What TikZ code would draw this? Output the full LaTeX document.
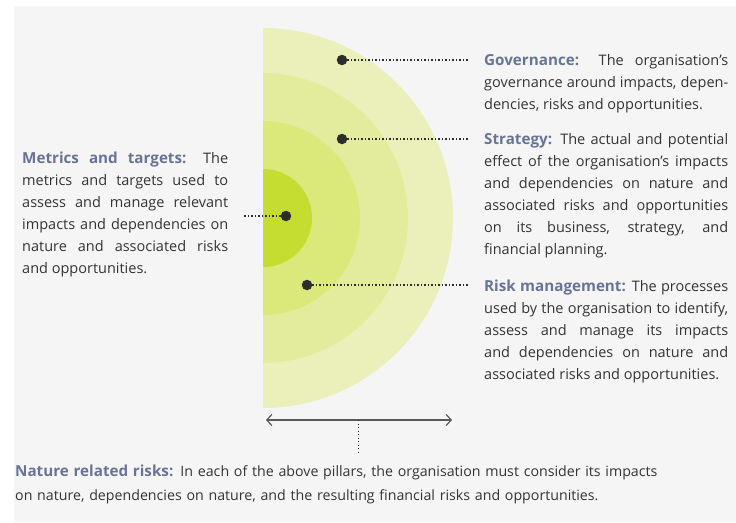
\documentclass[tikz,border=0pt]{standalone}
\usepackage{fontspec}
\setmainfont{Open Sans}
\usetikzlibrary{arrows.meta,positioning}

\definecolor{bg}{RGB}{245,245,245}
\definecolor{ringa}{RGB}{235,240,186}
\definecolor{ringb}{RGB}{227,236,156}
\definecolor{ringc}{RGB}{219,232,122}
\definecolor{ringd}{RGB}{197,220,48}
\definecolor{head}{RGB}{104,116,150}
\definecolor{body}{RGB}{52,52,52}
\definecolor{dotc}{RGB}{45,45,45}

\tikzset{
  pin/.style={circle,fill=dotc,inner sep=0pt,minimum size=10.5pt},
  lead/.style={dotc,line width=1.1pt,dash pattern=on 1.1pt off 2.4pt},
  blurb/.style={inner sep=0pt,anchor=base west,align=justify,text=body,
    font=\fontsize{14.5}{22}\selectfont},
}
\newcommand{\hd}[1]{{\fontsize{15.2}{22}\selectfont\bfseries\color{head}#1}}

\begin{document}
\begin{tikzpicture}[x=1pt,y=-1pt]
	\useasboundingbox (0,0) rectangle (736,522);
	\fill[white] (0,0) rectangle (736,522);
	\fill[bg] (14,6) rectangle (736,522);

	% the four half discs
	\fill[ringa] (263,218) ++(0,-190) arc[start angle=-90,end angle=90,radius=190] -- cycle;
	\fill[ringb] (263,218) ++(0,-145) arc[start angle=-90,end angle=90,radius=145] -- cycle;
	\fill[ringc] (263,218) ++(0,-97) arc[start angle=-90,end angle=90,radius=97] -- cycle;
	\fill[ringd] (263,218) ++(0,-49) arc[start angle=-90,end angle=90,radius=49] -- cycle;

	\node[pin] at (342,60) (gov) {};
	\node[pin] at (342,139) (strat) {};
	\node[pin] at (286,216) (metr) {};
	\node[pin] at (307,285) (risk) {};

	\node[blurb,text width=244pt] at (484,65) (govtxt)
		{\hd{Governance:} The organisation’s\linebreak governance around impacts, depen-\linebreak dencies, risks and opportunities.};
	\node[blurb,text width=244pt] at (484,144) (strattxt)
		{\hd{Strategy:} The actual and potential\linebreak effect of the organisation’s impacts\linebreak and dependencies on nature and\linebreak associated risks and opportunities\linebreak on its business, strategy, and\linebreak financial planning.};
	\node[blurb,text width=244pt] at (484,291) (risktxt)
		{\hd{Risk management:} The processes\linebreak used by the organisation to identify,\linebreak assess and manage its impacts\linebreak and dependencies on nature and\linebreak associated risks and opportunities.};
	\node[blurb,text width=206pt] at (22,163) (metrtxt)
		{\hd{Metrics and targets:} The\linebreak metrics and targets used to\linebreak assess and manage relevant\linebreak impacts and dependencies on\linebreak nature and associated risks\linebreak and opportunities.};

	\coordinate (govend) at (468,60);
	\coordinate (stratend) at (468,139);
	\coordinate (riskend) at (468,285);
	\coordinate (metrend) at (243,216);
	\draw[lead] (gov) -- (govend);
	\draw[lead] (strat) -- (stratend);
	\draw[lead] (risk) -- (riskend);
	\draw[lead] (metr) -- (metrend);

	% span arrow under the discs
	\coordinate (spanl) at (266,420);
	\coordinate (spanr) at (452,420);
	\coordinate (spanm) at (358,420);
	\draw[{Straight Barb[length=5pt,width=11pt]}-{Straight Barb[length=5pt,width=11pt]},line width=1.2pt,black!65] (spanl) -- (spanr);

	\node[blurb,text width=700pt,align=left,font=\fontsize{14.2}{24}\selectfont] at (15,476) (nattxt)
		{\hd{Nature related risks:} In each of the above pillars, the organisation must consider its impacts\\
		on nature, dependencies on nature, and the resulting financial risks and opportunities.};
	\coordinate (spanend) at (358,452);
	\draw[lead,line width=0.9pt] (spanm) -- (spanend);
\end{tikzpicture}
\end{document}
